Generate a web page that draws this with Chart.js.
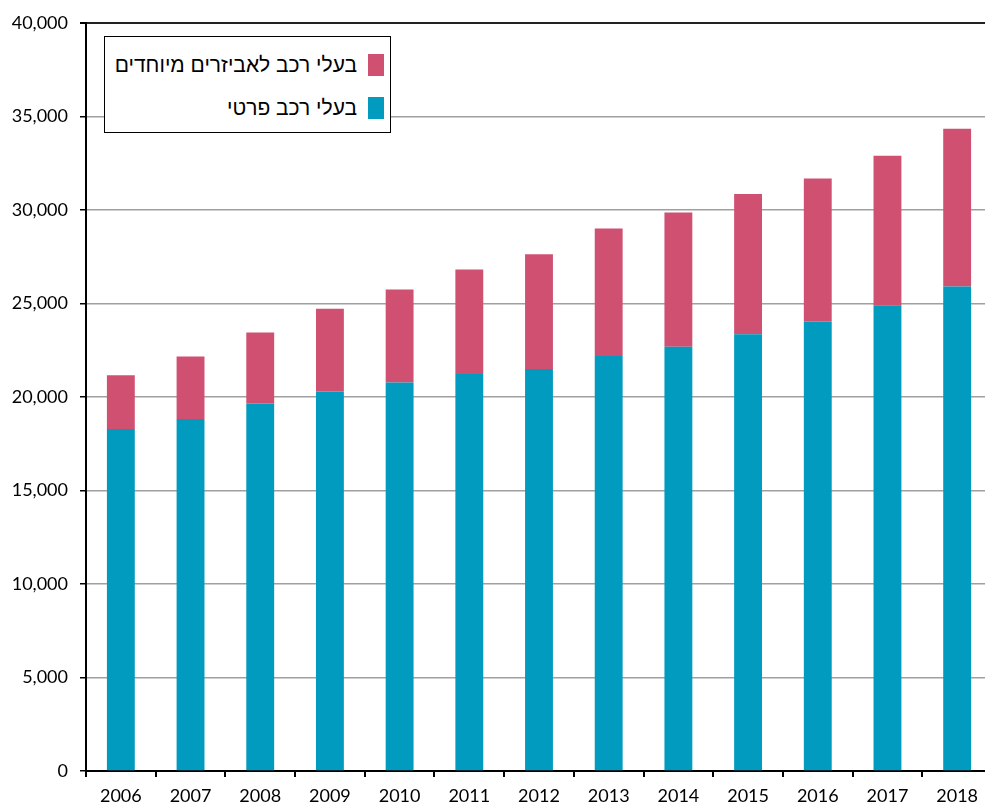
<!DOCTYPE html>
<html>
<head>
<meta charset="utf-8">
<script src="https://cdn.jsdelivr.net/npm/chart.js@4/dist/chart.umd.min.js"></script>
<style>
  html, body { margin: 0; padding: 0; background: #fff; overflow: hidden; }
  #wrap { position: relative; width: 992px; height: 805px; }
  #legend {
    position: absolute; left: 104px; top: 36px; width: 287px; height: 97px;
    border: 1px solid #000; background: #fff; box-sizing: border-box;
    direction: rtl; font-family: "Liberation Sans", Arial, sans-serif; font-size: 21px; color: #000;
    padding: 17px 6px 0 0;
  }
  #legend .item { display: flex; align-items: center; height: 22px; margin-bottom: 21px; }
  #legend .box { width: 16px; height: 22px; margin-left: 11px; flex: none; }
</style>
</head>
<body>
<div id="wrap">
  <canvas id="chart" width="992" height="805"></canvas>
  <div id="legend"></div>
</div>
<script>
var years = ['2006', '2007', '2008', '2009', '2010', '2011', '2012', '2013', '2014', '2015', '2016', '2017', '2018'];
var privateCar = [18290, 18830, 19650, 20300, 20770, 21230, 21500, 22190, 22690, 23350, 24040, 24900, 25910];
var specialEquip = [2870, 3340, 3800, 4420, 4980, 5590, 6130, 6820, 7170, 7510, 7640, 8000, 8440];
var seriesNames = ['בעלי רכב פרטי', 'בעלי רכב לאביזרים מיוחדים'];
var seriesColors = ['#009bbf', '#d05072'];

var data = {
    labels: years,
    datasets: [
        { label: seriesNames[0], data: privateCar, backgroundColor: seriesColors[0], barPercentage: 0.4, categoryPercentage: 1 },
        { label: seriesNames[1], data: specialEquip, backgroundColor: seriesColors[1], barPercentage: 0.4, categoryPercentage: 1 },
    ],
};

// html legend, top item is the top series
var legend = document.getElementById('legend');
for (let i = data.datasets.length - 1; i >= 0; i--) {
    let item = document.createElement('div');
    item.className = 'item';
    let box = document.createElement('span');
    box.className = 'box';
    box.style.background = data.datasets[i].backgroundColor;
    let txt = document.createElement('span');
    txt.textContent = data.datasets[i].label;
    item.appendChild(box);
    item.appendChild(txt);
    legend.appendChild(item);
}

const ctx = document.getElementById('chart');
var myChart = new Chart(ctx, {
    type: 'bar',
    data: data,
    options: {
        responsive: false,
        animation: false,
        layout: { padding: { top: 23, right: 0, left: 0, bottom: 0 } },
        plugins: { legend: { display: false }, tooltip: { enabled: false } },
        scales: {
            x: {
                stacked: true,
                offset: true,
                border: { color: '#000', width: 2 },
                grid: { offset: true, drawOnChartArea: false, drawTicks: true, tickLength: 6, tickColor: '#000', lineWidth: 2 },
                ticks: { color: '#000', padding: 8, maxRotation: 0, font: { family: 'Lato', size: 18 } },
                afterFit: function (scale) { scale.height = 34; },
            },
            y: {
                stacked: true,
                min: 0,
                max: 40000,
                border: { color: '#000', width: 2 },
                grid: {
                    color: function (c) { return c.tick && c.tick.value === 40000 ? '#222' : '#a0a0a0'; },
                    lineWidth: function (c) { return c.tick && c.tick.value === 40000 ? 2 : 1.5; },
                    tickLength: 6,
                    tickColor: '#000',
                },
                ticks: {
                    stepSize: 5000,
                    color: '#000',
                    padding: 12,
                    font: { family: 'Lato', size: 18 },
                    callback: function (v) { return v.toLocaleString('en-US'); },
                },
                afterFit: function (scale) { scale.width = 86; },
            },
        },
    },
});
</script>
</body>
</html>
